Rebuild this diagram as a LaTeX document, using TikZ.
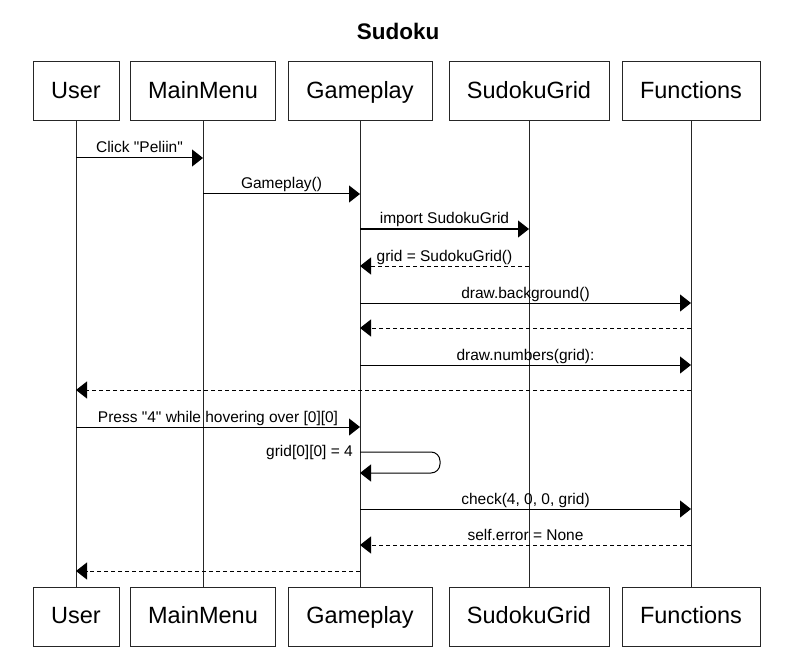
\documentclass[tikz,border=0pt]{standalone}
\usepackage{fontspec}
\setmainfont{Liberation Sans}
\usetikzlibrary{arrows.meta}
\begin{document}
\begin{tikzpicture}[x=1pt,y=-1pt,
  actor/.style={draw=black!85, line width=1pt, minimum height=59pt, inner sep=0pt, text height=17pt, text depth=3pt, font=\fontsize{23.5}{28}\selectfont},
  life/.style={draw=black!85, line width=1pt},
  msg/.style={draw=black, line width=1pt, -{Triangle[length=11pt,width=17pt]}},
  ret/.style={msg, dash pattern=on 4pt off 3pt},
  lbl/.style={font=\fontsize{15.5}{18}\selectfont, anchor=base, inner sep=0pt, yshift=5pt}
]
\useasboundingbox (0,0) rectangle (802,652);
\node[font=\bfseries\fontsize{22.5}{26}\selectfont] (title) at (398,31) {Sudoku};
% top actors
\node[actor, minimum width=86pt]  (U)  at (76,91.5)  {User};
\node[actor, minimum width=145pt] (MM) at (203,91.5) {MainMenu};
\node[actor, minimum width=144pt] (G)  at (360,91.5) {Gameplay};
\node[actor, minimum width=160pt] (SG) at (529,91.5) {SudokuGrid};
\node[actor, minimum width=138pt] (F)  at (691,91.5) {Functions};
% bottom actors
\node[actor, minimum width=86pt]  (U2)  at (76,616.5)  {User};
\node[actor, minimum width=145pt] (MM2) at (203,616.5) {MainMenu};
\node[actor, minimum width=144pt] (G2)  at (360,616.5) {Gameplay};
\node[actor, minimum width=160pt] (SG2) at (529,616.5) {SudokuGrid};
\node[actor, minimum width=138pt] (F2)  at (691,616.5) {Functions};
% lifelines
\draw[life] (U) -- (U2);
\draw[life] (MM) -- (MM2);
\draw[life] (G) -- (G2);
\draw[life] (SG) -- (SG2);
\draw[life] (F) -- (F2);
% message rows
\coordinate (m1) at (0,158);
\coordinate (m2) at (0,194);
\coordinate (m3) at (0,229);
\coordinate (m4) at (0,266);
\coordinate (m5) at (0,303);
\coordinate (m6) at (0,328);
\coordinate (m7) at (0,365);
\coordinate (m8) at (0,390);
\coordinate (m9) at (0,427);
\coordinate (m10) at (0,452);
\coordinate (m10b) at (0,473);
\coordinate (m11) at (0,509);
\coordinate (m12) at (0,545);
\coordinate (m13) at (0,571);
\draw[msg] (U |- m1) -- (MM |- m1) node[lbl, midway] {Click \textquotedbl Peliin\textquotedbl};
\draw[msg] (MM |- m2) -- (G |- m2) node[lbl, midway] {Gameplay()};
\draw[msg] (G |- m3) -- (SG |- m3) node[lbl, midway] {import SudokuGrid};
\draw[ret] (SG |- m4) -- (G |- m4) node[lbl, midway] {grid = SudokuGrid()};
\draw[msg] (G |- m5) -- (F |- m5) node[lbl, midway] {draw.background()};
\draw[ret] (F |- m6) -- (G |- m6);
\draw[msg] (G |- m7) -- (F |- m7) node[lbl, midway] {draw.numbers(grid):};
\draw[ret] (F |- m8) -- (U |- m8);
\draw[msg] (U |- m9) -- (G |- m9) node[lbl, midway] {Press \textquotedbl 4\textquotedbl{} while hovering over [0][0]};
\draw[msg, rounded corners=9pt] (G |- m10) -- ++(80,0) -- ++(0,21) -- (G |- m10b);
\node[font=\fontsize{15.5}{18}\selectfont, anchor=east, inner sep=0pt] (selflbl) at ([xshift=-7pt]G |- m10) {grid[0][0] = 4};
\draw[msg] (G |- m11) -- (F |- m11) node[lbl, midway] {check(4, 0, 0, grid)};
\draw[ret] (F |- m12) -- (G |- m12) node[lbl, midway] {self.error = None};
\draw[ret] (G |- m13) -- (U |- m13);
\end{tikzpicture}
\end{document}
